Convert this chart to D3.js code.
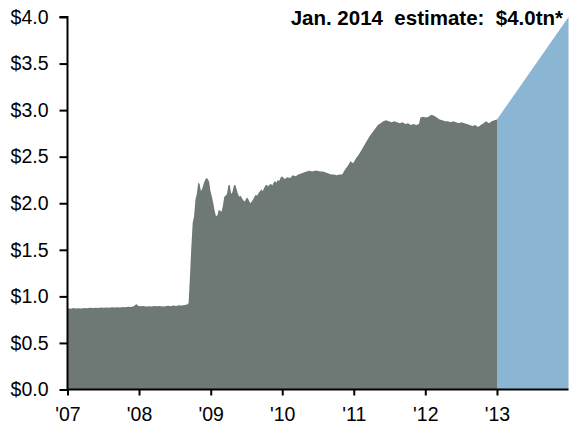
<!DOCTYPE html>
<html>
<head>
<meta charset="utf-8">
<script src="https://cdn.jsdelivr.net/npm/d3@7"></script>
<style>
  html, body { margin: 0; padding: 0; background: #fff; }
  svg { display: block; font-family: "Liberation Sans", Arial, sans-serif; }
</style>
</head>
<body>
<svg id="chart" width="571" height="426"></svg>
<script>
// Federal Reserve total assets, $ trillions (weekly / biweekly readings)
const assetDates = [
  "2007-01-03","2007-01-17","2007-01-31","2007-02-14","2007-02-28","2007-03-14","2007-03-28",
  "2007-04-11","2007-04-25","2007-05-09","2007-05-23","2007-06-06","2007-06-20","2007-07-04",
  "2007-07-18","2007-08-01","2007-08-15","2007-08-29","2007-09-12","2007-09-26","2007-10-10",
  "2007-10-24","2007-11-07","2007-11-21","2007-12-05","2007-12-19","2007-12-26","2008-01-09",
  "2008-01-23","2008-02-06","2008-02-20","2008-03-05","2008-03-19","2008-04-02","2008-04-16",
  "2008-04-30","2008-05-14","2008-05-28","2008-06-11","2008-06-25","2008-07-09","2008-07-23",
  "2008-08-06","2008-08-20","2008-09-03","2008-09-10","2008-09-17","2008-09-24","2008-10-01",
  "2008-10-08","2008-10-15","2008-10-22","2008-10-29","2008-11-05","2008-11-12","2008-11-19",
  "2008-11-26","2008-12-03","2008-12-10","2008-12-17","2008-12-24","2008-12-31","2009-01-07",
  "2009-01-14","2009-01-21","2009-01-28","2009-02-04","2009-02-11","2009-02-18","2009-02-25",
  "2009-03-04","2009-03-11","2009-03-18","2009-03-25","2009-04-01","2009-04-08","2009-04-15",
  "2009-04-22","2009-04-29","2009-05-06","2009-05-13","2009-05-20","2009-05-27","2009-06-03",
  "2009-06-10","2009-06-17","2009-06-24","2009-07-01","2009-07-08","2009-07-15","2009-07-22",
  "2009-07-29","2009-08-05","2009-08-12","2009-08-19","2009-08-26","2009-09-02","2009-09-09",
  "2009-09-16","2009-09-23","2009-09-30","2009-10-07","2009-10-14","2009-10-21","2009-10-28",
  "2009-11-04","2009-11-11","2009-11-18","2009-11-25","2009-12-02","2009-12-09","2009-12-16",
  "2009-12-23","2009-12-30","2010-01-13","2010-01-27","2010-02-10","2010-02-24","2010-03-10",
  "2010-03-24","2010-04-07","2010-04-21","2010-05-05","2010-05-19","2010-06-02","2010-06-16",
  "2010-06-30","2010-07-14","2010-07-28","2010-08-11","2010-08-25","2010-09-08","2010-09-22",
  "2010-10-06","2010-10-20","2010-11-03","2010-11-17","2010-12-01","2010-12-15","2010-12-29",
  "2011-01-12","2011-01-26","2011-02-09","2011-02-23","2011-03-09","2011-03-23","2011-04-06",
  "2011-04-20","2011-05-04","2011-05-18","2011-06-01","2011-06-15","2011-06-29","2011-07-13",
  "2011-07-27","2011-08-10","2011-08-24","2011-09-07","2011-09-21","2011-10-05","2011-10-19",
  "2011-11-02","2011-11-16","2011-11-30","2011-12-07","2011-12-21","2012-01-04","2012-01-18",
  "2012-02-01","2012-02-15","2012-02-29","2012-03-14","2012-03-28","2012-04-11","2012-04-25",
  "2012-05-09","2012-05-23","2012-06-06","2012-06-20","2012-07-04","2012-07-18","2012-08-01",
  "2012-08-15","2012-08-29","2012-09-12","2012-09-26","2012-10-10","2012-10-24","2012-11-07",
  "2012-11-21","2012-12-05","2012-12-19","2013-01-01"
];
const assetValues = [
  0.872,0.868,0.874,0.871,0.873,0.870,0.875,
  0.873,0.879,0.874,0.877,0.876,0.881,0.878,
  0.880,0.877,0.884,0.880,0.883,0.881,0.886,
  0.884,0.889,0.887,0.893,0.918,0.900,0.893,
  0.897,0.891,0.895,0.890,0.897,0.893,0.896,
  0.892,0.894,0.898,0.895,0.901,0.897,0.904,
  0.902,0.908,0.912,0.928,1.21,1.53,1.79,
  1.86,2.04,2.10,2.22,2.21,2.13,2.16,
  2.21,2.25,2.27,2.26,2.23,2.13,2.07,
  2.00,1.92,1.86,1.87,1.93,1.92,1.91,
  1.97,2.07,2.08,2.10,2.19,2.20,2.10,
  2.12,2.19,2.20,2.15,2.10,2.07,2.08,
  2.05,2.03,2.02,2.05,2.06,2.03,2.00,
  2.02,2.04,2.07,2.09,2.08,2.11,2.13,
  2.15,2.13,2.16,2.19,2.20,2.18,2.20,
  2.21,2.19,2.22,2.24,2.22,2.25,2.24,
  2.27,2.29,2.26,2.28,2.27,2.30,2.29,
  2.31,2.32,2.33,2.34,2.35,2.34,2.35,
  2.35,2.34,2.34,2.33,2.32,2.31,2.31,
  2.30,2.31,2.31,2.36,2.40,2.45,2.43,
  2.48,2.52,2.57,2.62,2.67,2.72,2.76,
  2.80,2.84,2.86,2.88,2.89,2.88,2.87,
  2.88,2.87,2.86,2.87,2.85,2.86,2.84,
  2.85,2.84,2.85,2.92,2.93,2.92,2.93,
  2.95,2.94,2.92,2.90,2.89,2.88,2.88,
  2.87,2.88,2.87,2.86,2.87,2.86,2.85,
  2.84,2.83,2.84,2.82,2.84,2.86,2.88,
  2.86,2.88,2.89,2.90
];

// Projected path to the January 2014 estimate
const projectionDates = ["2013-01-01", "2014-01-01"];
const projectionValues = [2.90, 4.0];

const yTickValues = [0, 0.5, 1, 1.5, 2, 2.5, 3, 3.5, 4];
const xTickYears = ["2007","2008","2009","2010","2011","2012","2013"];
const annotationText = "Jan. 2014  estimate:  $4.0tn*";

const parse = d3.timeParse("%Y-%m-%d");
const assets = assetDates.map((d, i) => ({ date: parse(d), value: assetValues[i] }));
const projection = projectionDates.map((d, i) => ({ date: parse(d), value: projectionValues[i] }));

const svg = d3.select("#chart");
const plotLeft = 67.5, plotRight = 568.5, plotTop = 17, plotBottom = 389.5;

const x = d3.scaleTime()
  .domain([parse("2007-01-01"), parse("2014-01-01")])
  .range([plotLeft, plotRight]);
const y = d3.scaleLinear().domain([0, 4]).range([plotBottom, plotTop]);

const area = d3.area()
  .x(d => x(d.date))
  .y0(y(0))
  .y1(d => y(d.value));

svg.append("path").datum(projection)
  .attr("d", area)
  .attr("fill", "#8bb6d3");

svg.append("path").datum(assets)
  .attr("d", area)
  .attr("fill", "#6e7976");

// Y axis
const yAxis = d3.axisLeft(y)
  .tickValues(yTickValues)
  .tickSize(8)
  .tickPadding(11)
  .tickFormat(d => "$" + d.toFixed(1));
const gy = svg.append("g").attr("transform", `translate(${plotLeft},0)`).call(yAxis);
gy.select(".domain").attr("d", `M-8,${plotTop}H0V${plotBottom}`).attr("stroke-width", 2);
gy.selectAll(".tick line").attr("stroke-width", 2);
gy.selectAll(".tick text")
  .attr("font-size", 19.5)
  .attr("font-family", "Liberation Sans, Arial, sans-serif")
  .attr("fill", "#000");

// X axis
const xAxis = d3.axisBottom(x)
  .tickValues(xTickYears.map(yr => parse(yr + "-01-01")))
  .tickSize(6)
  .tickPadding(12)
  .tickFormat(d3.timeFormat("'%y"));
const gx = svg.append("g").attr("transform", `translate(0,${plotBottom})`).call(xAxis);
gx.select(".domain").attr("d", `M${plotLeft},0H${plotRight}`).attr("stroke-width", 2);
gx.selectAll(".tick line").attr("stroke-width", 2);
gx.selectAll(".tick text")
  .attr("font-size", 19.5)
  .attr("font-family", "Liberation Sans, Arial, sans-serif")
  .attr("fill", "#000");

// Estimate annotation
svg.append("text")
  .attr("x", 563)
  .attr("y", 25)
  .attr("text-anchor", "end")
  .attr("font-size", 20.5)
  .attr("font-weight", "bold")
  .attr("fill", "#000")
  .style("white-space", "pre")
  .text(annotationText);
</script>
</body>
</html>
